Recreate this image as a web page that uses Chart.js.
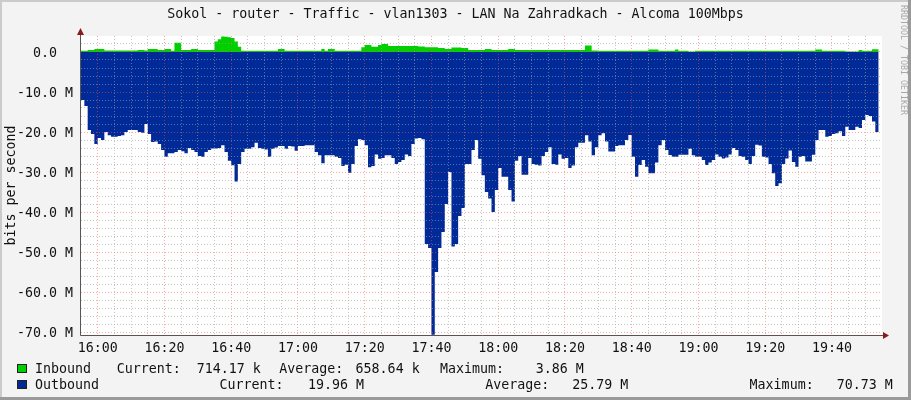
<!DOCTYPE html>
<html>
<head>
<meta charset="utf-8">
<script src="https://cdn.jsdelivr.net/npm/chart.js@4/dist/chart.umd.min.js"></script>
<style>
  html, body { margin: 0; padding: 0; background: #f3f3f3; }
  canvas { display: block; }
</style>
</head>
<body>
<canvas id="trafficChart" width="911" height="400"></canvas>
<script>
// Data: one sample per minute starting 15:55, values in Mbit/s
const startMinute = 15 * 60 + 55;
const inbound = [
  0.3, 0.3, 0.3, 0.5, 0.5, 0.75, 0.75, 0.75, 0.4, 0.4,
  0.4, 0.4, 0.4, 0.4, 0.4, 0.4, 0.4, 0.4, 0.5, 0.5,
  0.4, 0.75, 0.75, 0.75, 0.5, 0.5, 0.75, 0.75, 0.3, 2.3,
  2.3, 0.5, 0.5, 0.5, 0.75, 0.75, 0.5, 0.5, 0.5, 0.5,
  0.5, 2.6, 3.2, 3.86, 3.8, 3.7, 3.5, 2.6, 1.3, 0.3,
  0.3, 0.3, 0.3, 0.3, 0.3, 0.3, 0.3, 0.3, 0.3, 0.3,
  0.75, 0.75, 0.3, 0.3, 0.3, 0.3, 0.3, 0.3, 0.3, 0.3,
  0.3, 0.3, 0.3, 0.75, 0.3, 0.75, 0.75, 0.3, 0.3, 0.3,
  0.3, 0.3, 0.3, 0.3, 0.3, 1.2, 1.75, 1.75, 1.3, 1.3,
  1.75, 2.0, 2.0, 1.5, 1.5, 1.5, 1.5, 1.5, 1.5, 1.5,
  1.5, 1.5, 1.4, 1.4, 1.2, 1.2, 1.2, 1.2, 1.0, 1.0,
  0.75, 0.75, 1.1, 1.1, 1.1, 1.0, 1.0, 0.5, 0.5, 0.5,
  0.5, 0.5, 0.75, 0.75, 0.5, 0.5, 0.5, 0.5, 0.5, 0.75,
  0.75, 0.5, 0.5, 0.5, 0.5, 0.5, 0.5, 0.5, 0.5, 0.5,
  0.5, 0.5, 0.5, 0.5, 0.5, 0.5, 0.5, 0.5, 0.5, 0.5,
  0.5, 0.5, 1.6, 1.6, 0.4, 0.4, 0.3, 0.3, 0.3, 0.3,
  0.3, 0.3, 0.3, 0.3, 0.3, 0.3, 0.3, 0.3, 0.3, 0.3,
  0.3, 0.6, 0.6, 0.6, 0.3, 0.3, 0.3, 0.3, 0.3, 0.6,
  0.3, 0.3, 0.3, 0.1, 0.1, 0.3, 0.3, 0.3, 0.3, 0.3,
  0.3, 0.3, 0.3, 0.3, 0.3, 0.3, 0.3, 0.3, 0.3, 0.3,
  0.3, 0.3, 0.3, 0.3, 0.3, 0.3, 0.3, 0.3, 0.3, 0.3,
  0.3, 0.3, 0.3, 0.3, 0.3, 0.3, 0.3, 0.3, 0.3, 0.3,
  0.3, 0.6, 0.6, 0.3, 0.3, 0.3, 0.3, 0.3, 0.3, 0.3,
  0.1, 0.1, 0.1, 0.1, 0.5, 0.3, 0.3, 0.3, 0.71, 0.71
];
const outbound = [
  12.5, 12, 13.5, 19.5, 20.5, 23, 21.5, 22, 20, 20.8,
  21.2, 21.2, 21, 20.8, 20, 19.5, 19.5, 19.5, 20, 20.2,
  18, 20.5, 22.5, 22.4, 23, 24.5, 26.2, 25.3, 25.3, 25,
  24.5, 24.8, 25.3, 24, 24.5, 25, 26, 26.2, 25, 24.5,
  24.1, 24.1, 24, 23.3, 25, 27.2, 28.3, 32.4, 28, 25,
  24.2, 24.2, 23.8, 22.7, 24, 24.2, 24.4, 26.2, 24.2, 23.9,
  23.5, 23.5, 24.2, 23.5, 23.6, 24.7, 23.5, 23.5, 23.3, 23.3,
  23.3, 25, 25.8, 27.8, 25.8, 25.8, 25.8, 26.2, 26.5, 28.5,
  28.2, 30.2, 28, 23.5, 21.8, 22, 23.3, 28.8, 28.5, 25.6,
  26.7, 26.5, 25.8, 25.8, 26.5, 28, 27.5, 27, 25.6, 26,
  23, 21.6, 21.5, 21.8, 48, 49, 70.7, 55, 49, 45,
  38, 30, 48.6, 48, 41, 39, 28, 28, 24.5, 22,
  26.7, 30.8, 35, 36.6, 40, 34.5, 29, 31.2, 31.2, 34.5,
  37.4, 27.2, 26, 30.7, 30.7, 26.5, 28, 28.2, 28.4, 26,
  25, 23.8, 28, 28.2, 25.6, 26.7, 26.5, 29, 28.4, 23.8,
  22.7, 22.7, 20.8, 22.4, 25.8, 23.8, 20.8, 20.3, 22.4, 24.9,
  24.9, 23.5, 23.3, 23.3, 22, 20.75, 26.2, 31.2, 28.25, 27,
  28.7, 30.3, 30.3, 27.6, 23.3, 22, 24.5, 25.75, 26.2, 26.2,
  25.7, 25.7, 25.7, 24.2, 25.8, 26.2, 26.2, 27, 28.25, 27.6,
  27, 25.6, 26.2, 26.6, 26.4, 25.6, 24, 24.5, 26, 26.2,
  27, 28, 26, 23.2, 23.4, 26.2, 26.4, 28, 30.3, 33.5,
  32.8, 28, 26.6, 24.6, 27.5, 28.7, 26.2, 26, 27.4, 27.4,
  25.7, 22, 19.5, 19.5, 21.2, 21, 20.5, 20.3, 19.8, 21,
  18.7, 19.5, 19.5, 18.7, 19, 17, 15.75, 16, 17.4, 20
];

const timeLabels = ['16:00', '16:20', '16:40', '17:00', '17:20', '17:40',
                    '18:00', '18:20', '18:40', '19:00', '19:20', '19:40'];
const yTickValues = [-70, -60, -50, -40, -30, -20, -10, 0];
const yTickLabels = ['-70.0 M', '-60.0 M', '-50.0 M', '-40.0 M', '-30.0 M', '-20.0 M', '-10.0 M', '0.0  '];

const title = 'Sokol - router - Traffic - vlan1303 - LAN Na Zahradkach - Alcoma 100Mbps';
const yTitle = 'bits per second';
const watermark = 'RRDTOOL / TOBI OETIKER';
const seriesNames = ['Inbound', 'Outbound'];
const seriesColors = ['#00CF00', '#002A97'];
const inboundStats = ['Current:', '714.17 k', 'Average:', '658.64 k', 'Maximum:', '3.86 M'];
const outboundStats = ['Current:', '19.96 M', 'Average:', '25.79 M', 'Maximum:', '70.73 M'];

const FONT = 'DejaVu Sans Mono';
const MAJOR_GRID = 'rgba(255,80,80,0.5)';
const MINOR_GRID = 'rgba(160,160,160,0.6)';
Chart.defaults.font.family = FONT;
Chart.defaults.font.size = 13.3;
Chart.defaults.color = '#111';

function minuteToTime(m) {
  const t = startMinute + m;
  const h = Math.floor(t / 60), mm = t % 60;
  return h + ':' + String(mm).padStart(2, '0');
}

// frame, title, axes arrows, legend - rrdtool look
const rrdLook = {
  id: 'rrdLook',
  beforeDraw(chart) {
    const { ctx, chartArea: a, width, height } = chart;
    ctx.save();
    ctx.fillStyle = '#f3f3f3';
    ctx.fillRect(0, 0, width, height);
    ctx.fillStyle = '#cbcbcb';
    ctx.fillRect(0, 0, width, 2);
    ctx.fillRect(0, 0, 2, height);
    ctx.fillStyle = '#9a9a9a';
    ctx.fillRect(width - 3, 0, 3, height);
    ctx.fillRect(0, height - 3, width, 3);
    ctx.fillStyle = '#ffffff';
    ctx.fillRect(a.left, a.top, a.right - a.left, a.bottom - a.top);
    ctx.restore();
  },
  afterDraw(chart) {
    const { ctx, chartArea: a, width } = chart;
    ctx.save();
    // axes
    ctx.strokeStyle = '#555';
    ctx.lineWidth = 1;
    ctx.beginPath();
    ctx.moveTo(a.left - 0.5, a.bottom + 0.5);
    ctx.lineTo(a.left - 0.5, a.top - 5);
    ctx.moveTo(a.left - 0.5, a.bottom + 0.5);
    ctx.lineTo(a.right + 3, a.bottom + 0.5);
    ctx.stroke();
    ctx.fillStyle = '#8b1a1a';
    ctx.beginPath();
    ctx.moveTo(a.left - 4, a.top - 1);
    ctx.lineTo(a.left + 3, a.top - 1);
    ctx.lineTo(a.left - 0.5, a.top - 8);
    ctx.closePath();
    ctx.fill();
    ctx.beginPath();
    ctx.moveTo(a.right + 1, a.bottom - 3);
    ctx.lineTo(a.right + 1, a.bottom + 4);
    ctx.lineTo(a.right + 7, a.bottom + 0.5);
    ctx.closePath();
    ctx.fill();

    // title
    ctx.fillStyle = '#111';
    ctx.font = '13.3px "' + FONT + '"';
    ctx.textAlign = 'center';
    ctx.textBaseline = 'alphabetic';
    ctx.fillText(title, width / 2, 18);

    // y axis title
    ctx.save();
    ctx.translate(12, (a.top + a.bottom) / 2);
    ctx.rotate(-Math.PI / 2);
    ctx.textBaseline = 'middle';
    ctx.fillText(yTitle, 0, 0);
    ctx.restore();

    // watermark
    ctx.save();
    ctx.translate(903, 5);
    ctx.rotate(Math.PI / 2);
    ctx.font = '8.3px "' + FONT + '"';
    ctx.fillStyle = '#a8a8a8';
    ctx.textAlign = 'left';
    ctx.textBaseline = 'middle';
    ctx.fillText(watermark, 0, 0);
    ctx.restore();

    // legend rows
    const rows = [
      { y: 373, stats: inboundStats, xs: [116.7, 196.7, 279.3, 355.6, 439.9, 535.7] },
      { y: 389, stats: outboundStats, xs: [219.5, 308, 485.2, 572.3, 749.6, 836.7] }
    ];
    ctx.textAlign = 'left';
    ctx.textBaseline = 'alphabetic';
    rows.forEach((r, i) => {
      ctx.fillStyle = '#222';
      ctx.fillRect(17, r.y - 9, 10, 9);
      ctx.fillStyle = seriesColors[i];
      ctx.fillRect(18, r.y - 8, 8, 7);
      ctx.fillStyle = '#111';
      ctx.fillText(seriesNames[i], 35, r.y);
      r.stats.forEach((s, j) => ctx.fillText(s, r.xs[j], r.y));
    });
    ctx.restore();
  }
};

const ctx = document.getElementById('trafficChart').getContext('2d');
const chart = new Chart(ctx, {
  type: 'line',
  data: {
    datasets: [{
      label: seriesNames[0],
      data: inbound.map((v, i) => ({ x: i, y: v })),
      backgroundColor: seriesColors[0],
      borderColor: 'rgba(0,0,0,0)',
      borderWidth: 0,
      fill: 'origin',
      stepped: 'after',
      pointRadius: 0
    }, {
      label: seriesNames[1],
      // outbound is drawn below zero
      data: outbound.map((v, i) => ({ x: i, y: -v })),
      backgroundColor: seriesColors[1],
      borderColor: 'rgba(0,0,0,0)',
      borderWidth: 0,
      fill: 'origin',
      stepped: 'after',
      pointRadius: 0
    }]
  },
  options: {
    responsive: false,
    animation: false,
    events: [],
    layout: { padding: { top: 36, right: 29, bottom: 0, left: 0 } },
    plugins: { legend: { display: false }, tooltip: { enabled: false }, title: { display: false } },
    scales: {
      x: {
        type: 'linear',
        min: 0,
        max: 240,
        afterFit: s => { s.height = 65; },
        afterBuildTicks: s => {
          const t = [];
          for (let m = 5; m < 240; m += 5) t.push({ value: m });
          s.ticks = t;
        },
        ticks: {
          autoSkip: false,
          maxRotation: 0,
          padding: 6,
          callback: v => timeLabels.includes(minuteToTime(v)) ? minuteToTime(v) : ''
        },
        grid: {
          z: 1,
          drawTicks: false,
          color: c => timeLabels.includes(minuteToTime(c.tick.value)) ? MAJOR_GRID : MINOR_GRID
        },
        border: { display: false, dash: [1, 2] }
      },
      y: {
        min: -70.75,
        max: 4,
        afterFit: s => { s.width = 81; },
        afterBuildTicks: s => {
          const t = [];
          for (let v = -70; v <= 2; v += 2) t.push({ value: v });
          s.ticks = t;
        },
        ticks: {
          autoSkip: false,
          padding: 8,
          labelOffset: 1.5,
          callback: v => {
            const k = yTickValues.indexOf(v);
            return k >= 0 ? yTickLabels[k] : '';
          }
        },
        grid: {
          z: 1,
          drawTicks: false,
          color: c => yTickValues.includes(c.tick.value) ? MAJOR_GRID : MINOR_GRID
        },
        border: { display: false, dash: [1, 2] }
      }
    }
  },
  plugins: [rrdLook]
});
</script>
</body>
</html>
